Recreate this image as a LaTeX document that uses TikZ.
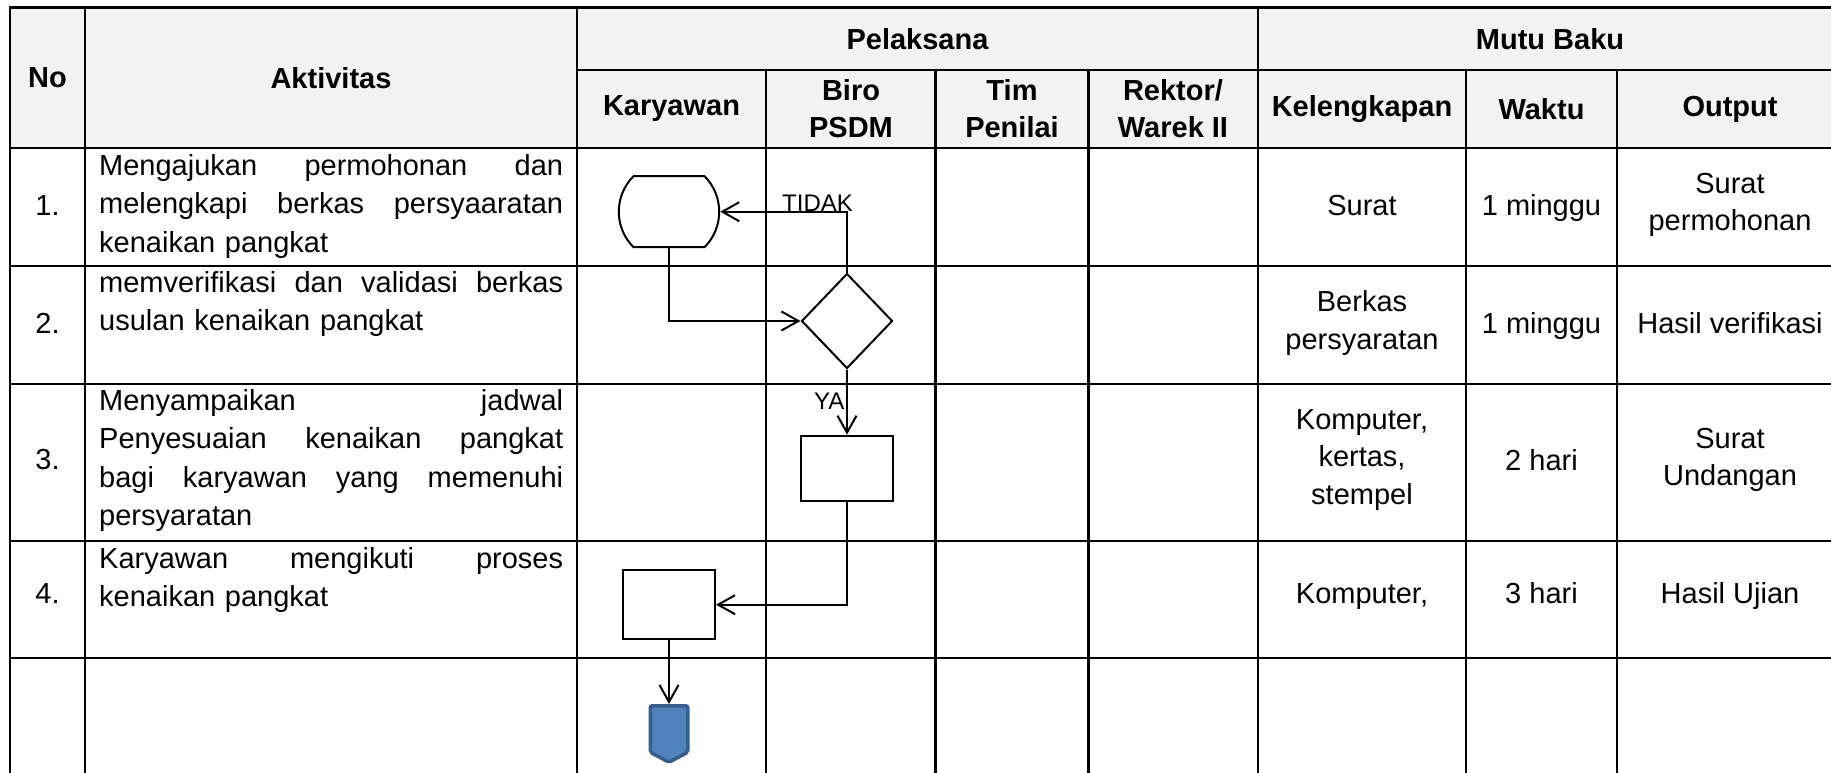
\documentclass[tikz,border=0pt]{standalone}
\usepackage{fontspec}
\setmainfont{Liberation Sans}
\usetikzlibrary{arrows.meta,shapes.geometric,shapes.misc,shapes.symbols}

\definecolor{hdrfill}{HTML}{F2F2F2}
\definecolor{offblue}{HTML}{4F81BD}
\definecolor{offedge}{HTML}{385D8A}

% one fully justified line of the activity column
\newcommand{\jline}[1]{\leavevmode\hbox to 464pt{#1}}

\begin{document}
\begin{tikzpicture}[x=1pt,y=-1pt,
  grid/.style={line width=2.6pt,line cap=rect},
  flow/.style={line width=2pt},
  arr/.style={flow,-{Straight Barb[length=17pt,width=19pt]}},
  hd/.style={font=\fontsize{29}{37}\selectfont\bfseries,align=center,inner sep=0pt},
  cell/.style={font=\fontsize{29}{37.5}\selectfont,align=center,inner sep=0pt},
  act/.style={font=\fontsize{29}{38.5}\selectfont,text width=464pt,align=left,inner sep=0pt,anchor=base west},
  lbl/.style={font=\fontsize{24}{28}\selectfont,inner sep=0pt,anchor=base west},
  term/.style={draw,flow,rounded rectangle,rounded rectangle arc length=90,minimum width=92pt,minimum height=71pt,inner sep=0pt},
  decide/.style={draw,flow,diamond,minimum width=91pt,minimum height=95pt,inner sep=0pt},
  proc/.style={draw,flow,rectangle,inner sep=0pt,minimum width=92pt},
  offpage/.style={signal,signal to=south,signal pointer angle=124,fill=offblue,draw=offedge,line width=3.5pt,rounded corners=2pt,minimum width=37.5pt,minimum height=46.5pt,inner sep=0pt},
]
\useasboundingbox (0,0) rectangle (1831,772);

% table frame
\begin{scope}
  \clip (0,0) rectangle (1831,772);
  \fill[hdrfill] (10,7.5) rectangle (1843,148);
  \foreach \y in {7.5,148,266,384,541,658}
    \draw[grid] (10,\y) -- (1843,\y);
  \draw[grid] (577,70) -- (1843,70);
  \foreach \x in {10,85,577,1258,1843}
    \draw[grid] (\x,7.5) -- (\x,790);
  \foreach \x in {766,935.7,1088.3,1466,1617}
    \draw[grid] (\x,70) -- (\x,790);
\end{scope}

% header
\node[hd] (hNo)   at (47.5,78)  {No};
\node[hd] (hAkt)  at (331,78)   {Aktivitas};
\node[hd] (hPel)  at (917.5,39) {Pelaksana};
\node[hd] (hMutu) at (1550,39)  {Mutu Baku};
\node[hd] (hKar)  at (671.5,109) {Karyawan};
\node[hd] (hBiro) at (851,109)  {Biro\\PSDM};
\node[hd] (hTim)  at (1012,109) {Tim\\Penilai};
\node[hd] (hRek)  at (1173,109) {Rektor/\\Warek II};
\node[hd] (hKel)  at (1362,109) {Kelengkapan};
\node[hd] (hWak)  at (1541.5,109) {Waktu};
\node[hd] (hOut)  at (1730,109) {Output};

% row numbers
\node[cell,anchor=base] (n1) at (47.5,215) {1.};
\node[cell,anchor=base] (n2) at (47.5,333) {2.};
\node[cell,anchor=base] (n3) at (47.5,469) {3.};
\node[cell,anchor=base] (n4) at (47.5,603) {4.};

% activities
\node[act] (a1) at (99,175) {\jline{Mengajukan\hfill permohonan\hfill dan}\\
  \jline{melengkapi\hfill berkas\hfill persyaaratan}\\ kenaikan pangkat};
\node[act] (a2) at (99,292) {\jline{memverifikasi\hfill dan\hfill validasi\hfill berkas}\\
  usulan kenaikan pangkat};
\node[act] (a3) at (99,410) {\jline{Menyampaikan\hfill jadwal}\\
  \jline{Penyesuaian\hfill kenaikan\hfill pangkat}\\
  \jline{bagi\hfill karyawan\hfill yang\hfill memenuhi}\\ persyaratan};
\node[act] (a4) at (99,568) {\jline{Karyawan\hfill mengikuti\hfill proses}\\
  kenaikan pangkat};

% quality standards
\node[cell,anchor=base] (k1) at (1362,215) {Surat};
\node[cell,anchor=base] (w1) at (1541.5,215) {1 minggu};
\node[cell] (o1) at (1730,205) {Surat\\permohonan};
\node[cell] (k2) at (1362,323) {Berkas\\persyaratan};
\node[cell,anchor=base] (w2) at (1541.5,333) {1 minggu};
\node[cell,anchor=base] (o2) at (1730,333) {Hasil verifikasi};
\node[cell] (k3) at (1362,460) {Komputer,\\kertas,\\stempel};
\node[cell,anchor=base] (w3) at (1541.5,470) {2 hari};
\node[cell] (o3) at (1730,460) {Surat\\Undangan};
\node[cell,anchor=base] (k4) at (1362,603) {Komputer,};
\node[cell,anchor=base] (w4) at (1541.5,603) {3 hari};
\node[cell,anchor=base] (o4) at (1730,603) {Hasil Ujian};

% flow
\node[term]   (t1)  at (669,211.7) {};
\node[decide] (d1)  at (847,321) {};
\node[proc,minimum height=65pt] (p3) at (847,468.2) {};
\node[proc,minimum height=69pt] (p4) at (669,604.7) {};
\node[offpage] (end) at (669,729) {};

\draw[arr] (t1.south) |- (d1.west);
\draw[arr] (d1.north) |- (t1.east);
\draw[arr] (d1.south) -- (p3.north);
\draw[arr] (p3.south) |- (p4.east);
\draw[arr] (p4.south) -- (end.north);

\node[lbl] (lTidak) at (782,211) {TIDAK};
\node[lbl] (lYa)    at (814,409) {YA};
\end{tikzpicture}
\end{document}
